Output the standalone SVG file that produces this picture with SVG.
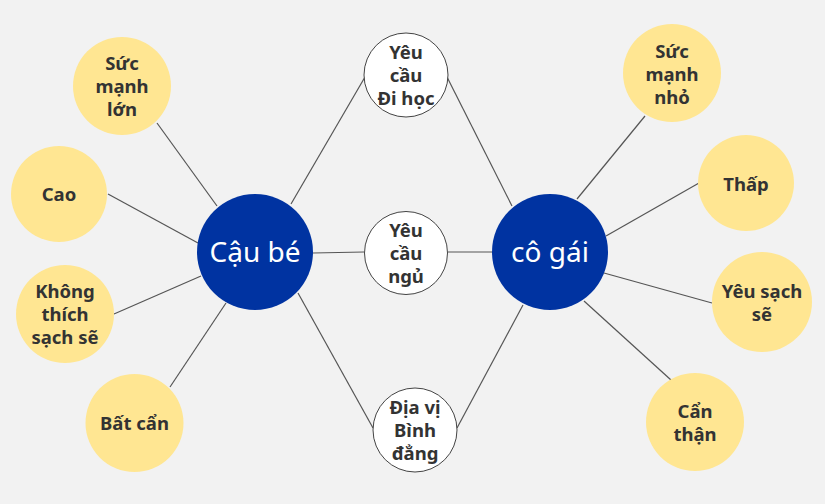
<svg xmlns="http://www.w3.org/2000/svg" width="825" height="504" viewBox="0 0 825 504">
<style>
.bg{fill:#f2f2f2}
.leaf{fill:#ffe692}
.hub{fill:#0033a1}
.mid{fill:#ffffff;stroke:#444444;stroke-width:1}
.lt{font-family:"Noto Sans","Liberation Sans",sans-serif;font-weight:bold;font-size:18.5px;fill:#333333;text-anchor:middle}
.ht{font-family:"Noto Sans","Liberation Sans",sans-serif;font-size:28px;fill:#ffffff;text-anchor:middle}
#connectors line{stroke:#555555;stroke-width:1.2}
</style>
<rect class="bg" x="0" y="0" width="825" height="504"/>
<g id="connectors">
<line x1="157" y1="123" x2="217" y2="206"/>
<line x1="108" y1="194" x2="198" y2="243"/>
<line x1="114" y1="314" x2="201" y2="276"/>
<line x1="170" y1="387" x2="226" y2="303"/>
<line x1="291" y1="204" x2="365" y2="77"/>
<line x1="313" y1="253" x2="364" y2="252"/>
<line x1="298" y1="293" x2="373" y2="428"/>
<line x1="447" y1="77" x2="512" y2="206"/>
<line x1="448" y1="252" x2="492" y2="252"/>
<line x1="457" y1="428" x2="523" y2="305"/>
<line x1="577" y1="199" x2="645" y2="116"/>
<line x1="606" y1="236" x2="699" y2="183"/>
<line x1="604" y1="273" x2="712" y2="303"/>
<line x1="584" y1="301" x2="671" y2="380"/>
</g>
<g id="cau-be"><circle class="hub" cx="255" cy="252" r="58"/><text class="ht" x="255" y="262">Cậu bé</text></g>
<g id="co-gai"><circle class="hub" cx="550" cy="252" r="58"/><text class="ht" x="550" y="262">cô gái</text></g>
<g id="suc-manh-lon"><circle class="leaf" cx="122" cy="86" r="49"/><text class="lt" x="122" y="70">Sức</text><text class="lt" x="122" y="93">mạnh</text><text class="lt" x="122" y="116">lớn</text></g>
<g id="cao"><circle class="leaf" cx="59" cy="194" r="48"/><text class="lt" x="59" y="201">Cao</text></g>
<g id="khong-thich"><circle class="leaf" cx="65" cy="314" r="49"/><text class="lt" x="65" y="298">Không</text><text class="lt" x="65" y="321">thích</text><text class="lt" x="65" y="344">sạch sẽ</text></g>
<g id="bat-can"><circle class="leaf" cx="134.5" cy="423" r="49"/><text class="lt" x="134.5" y="430">Bất cẩn</text></g>
<g id="yeu-cau-di-hoc"><circle class="mid" cx="406" cy="75" r="42"/><text class="lt" x="406" y="59">Yêu</text><text class="lt" x="406" y="82">cầu</text><text class="lt" x="406" y="105">Đi học</text></g>
<g id="yeu-cau-ngu"><circle class="mid" cx="406" cy="253" r="41.5"/><text class="lt" x="406" y="237">Yêu</text><text class="lt" x="406" y="260">cầu</text><text class="lt" x="406" y="283">ngủ</text></g>
<g id="dia-vi"><circle class="mid" cx="415" cy="430" r="42"/><text class="lt" x="415" y="414">Địa vị</text><text class="lt" x="415" y="437">Bình</text><text class="lt" x="415" y="460">đẳng</text></g>
<g id="suc-manh-nho"><circle class="leaf" cx="672" cy="73" r="49"/><text class="lt" x="672" y="58">Sức</text><text class="lt" x="672" y="81">mạnh</text><text class="lt" x="672" y="104">nhỏ</text></g>
<g id="thap"><circle class="leaf" cx="746" cy="183" r="48"/><text class="lt" x="746" y="191">Thấp</text></g>
<g id="yeu-sach-se"><circle class="leaf" cx="762" cy="302" r="50"/><text class="lt" x="762" y="298">Yêu sạch</text><text class="lt" x="762" y="321">sẽ</text></g>
<g id="can-than"><circle class="leaf" cx="695" cy="422" r="49"/><text class="lt" x="695" y="418">Cẩn</text><text class="lt" x="695" y="441">thận</text></g>
</svg>
